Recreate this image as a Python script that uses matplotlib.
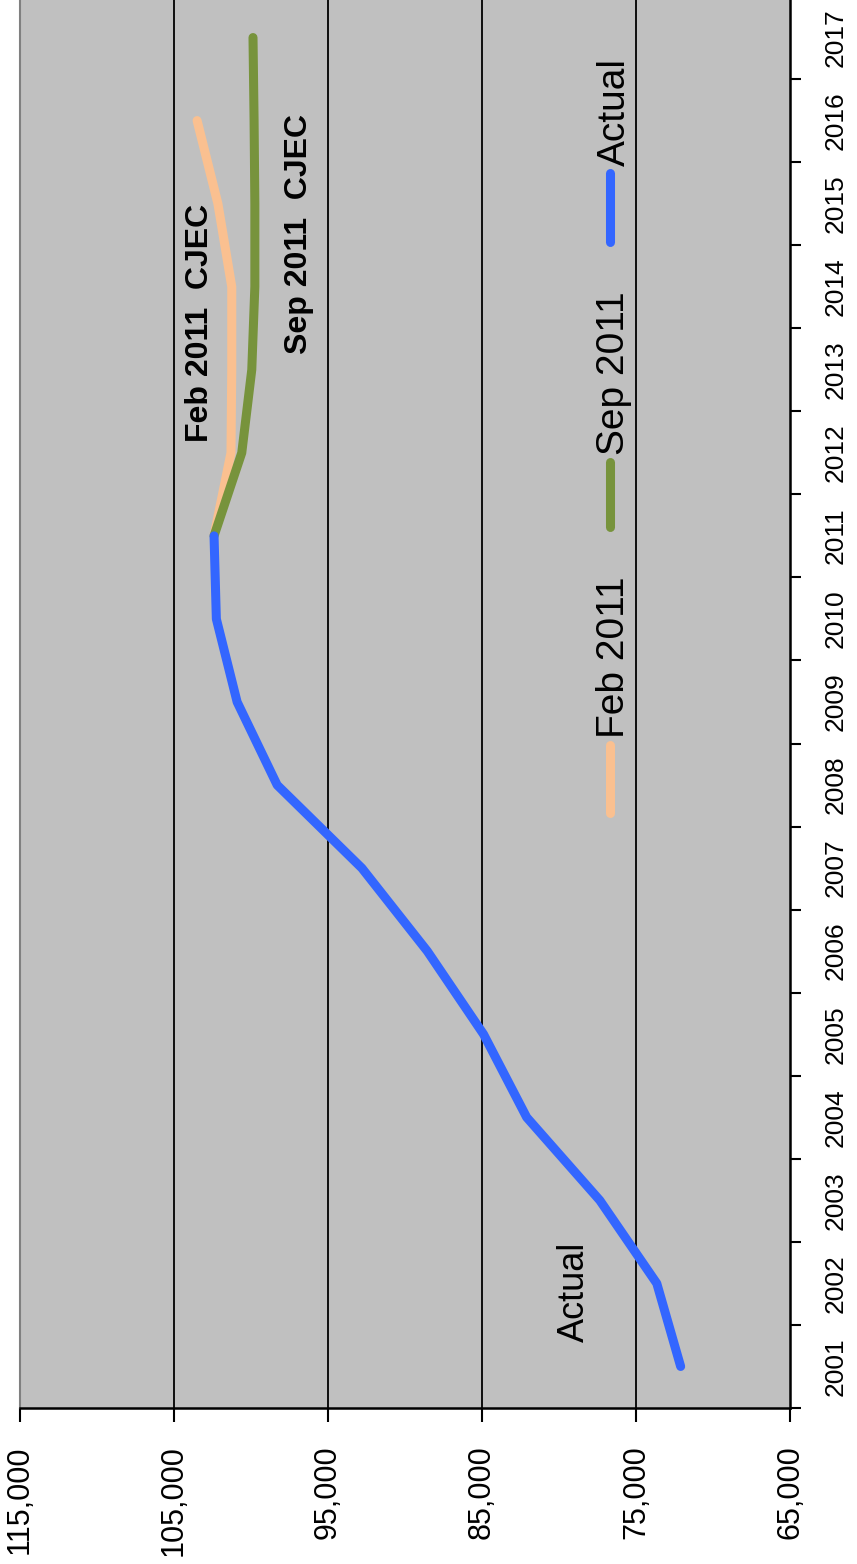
import matplotlib.pyplot as plt
from matplotlib.lines import Line2D

plt.rcParams['font.family'] = ['Liberation Sans', 'DejaVu Sans']

years = [str(y) for y in range(2001, 2018)]
actual = [72100, 73650, 77350, 82100, 84900, 88550, 92800, 98300, 100900,
          102250, 102400]
feb_2011 = [102400, 101300, 101250, 101250, 102150, 103500]
sep_2011 = [102400, 100600, 99950, 99750, 99750, 99800, 99870]

BLUE = "#3366FF"
ORANGE = "#FAC090"
GREEN = "#77933C"

fig = plt.figure(figsize=(8.57, 15.64), dpi=100)
ax = fig.add_axes([20/857, 156/1564, 770/857, 1412/1564])
ax.set_facecolor("#C0C0C0")

# chart is drawn sideways: value runs left (high) to right (low), years upward
idx_actual = list(range(len(actual)))
idx_fc_feb = list(range(10, 10 + len(feb_2011)))
idx_fc_sep = list(range(10, 10 + len(sep_2011)))

kw = dict(lw=6.5, solid_capstyle="round", solid_joinstyle="round")
ax.plot(feb_2011, idx_fc_feb, color=ORANGE, zorder=3, **kw)
ax.plot(sep_2011, idx_fc_sep, color=GREEN, zorder=4, **kw)
ax.plot(actual, idx_actual, color=BLUE, zorder=5, **kw)

ax.set_xlim(115000, 65000)
ax.set_ylim(-0.5, len(years) - 0.5)

vt = list(range(65000, 115001, 10000))
ax.set_xticks(vt)
ax.set_xticklabels([f"{v:,}" for v in vt], rotation=90, fontsize=22)
ax.tick_params(axis="x", direction="out", length=10, width=1.5, pad=17)
for v in vt[1:-1]:
    ax.axvline(v, color="black", lw=1.3, zorder=1)

ax.yaxis.tick_right()
ax.set_yticks([i - 0.5 for i in range(len(years) + 1)])
ax.set_yticklabels([])
ax.set_yticks(range(len(years)), minor=True)
ax.set_yticklabels(years, minor=True, rotation=90, fontsize=19, va="center")
ax.tick_params(axis="y", which="major", direction="out", length=8, width=1.5)
ax.tick_params(axis="y", which="minor", length=0, pad=24)

ax.spines["top"].set_visible(False)
ax.spines["left"].set_color("#808080")
ax.spines["left"].set_linewidth(1.5)
ax.spines["bottom"].set_linewidth(1.8)
ax.spines["right"].set_linewidth(1.8)

# in-plot labels
ax.text(79000, 0.9, "Actual", rotation=90, fontsize=26, ha="center", va="center")
ax.text(103300, 12.56, "Feb 2011  CJEC", rotation=90, fontsize=23,
        fontweight="bold", ha="center", va="center")
ax.text(96900, 13.63, "Sep 2011  CJEC", rotation=90, fontsize=23,
        fontweight="bold", ha="center", va="center")

# sideways legend
leg = [(ORANGE, "Feb 2011", 0.4214, 0.4695),
       (GREEN, "Sep 2011", 0.624, 0.670),
       (BLUE, "Actual", 0.8258, 0.8746)]
for col, lab, y0, y1 in leg:
    ax.add_line(Line2D([0.766, 0.766], [y0, y1], transform=ax.transAxes,
                       color=col, lw=6.5, solid_capstyle="round", zorder=6))
    ax.text(0.772, y1 + 0.005, lab, transform=ax.transAxes, rotation=90,
            fontsize=28, ha="center", va="bottom")

fig.savefig("out.png", dpi=100)
